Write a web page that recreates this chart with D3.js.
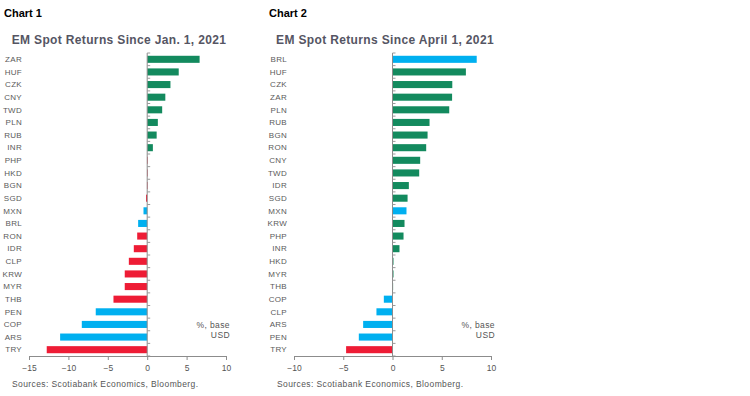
<!DOCTYPE html>
<html>
<head>
<meta charset="utf-8">
<script src="https://cdn.jsdelivr.net/npm/d3@7"></script>
<style>
  body { margin: 0; background: #fff; }
  svg { display: block; }
  text { font-family: "Liberation Sans", Arial, sans-serif; }
  .chart-no { font-family: "Liberation Sans Narrow", "Arial Narrow", "Liberation Sans", sans-serif; font-weight: bold; font-size: 11px; fill: #000; }
  .title { font-weight: bold; font-size: 12px; fill: #555563; letter-spacing: 0.35px; }
  .cat { font-size: 8px; fill: #5a5a5a; letter-spacing: 0.3px; }
  .axis text { font-size: 8.5px; fill: #555; }
  .axis path, .axis line { stroke: #8c8c8c; }
  .note { font-size: 8.5px; fill: #555; letter-spacing: 0.4px; }
</style>
</head>
<body>
<svg id="chart" width="750" height="396"></svg>
<script>
// chart 1: since Jan 1
const codes1 = ['ZAR','HUF','CZK','CNY','TWD','PLN','RUB','INR','PHP','HKD','BGN','SGD',
  'MXN','BRL','RON','IDR','CLP','KRW','MYR','THB','PEN','COP','ARS','TRY'];
const values1 = [6.65, 4.0, 2.95, 2.3, 1.9, 1.35, 1.2, 0.72, 0.08, 0.02, -0.03, -0.15,
  -0.47, -1.15, -1.27, -1.7, -2.33, -2.85, -2.85, -4.28, -6.53, -8.3, -11.05, -12.75];
const groups1 = ['up','up','up','up','up','up','up','up','down','down','down','down',
  'latam','latam','down','down','down','down','down','down','latam','latam','latam','down'];

// chart 2: since April 1
const codes2 = ['BRL','HUF','CZK','ZAR','PLN','RUB','BGN','RON','CNY','TWD','IDR','SGD',
  'MXN','KRW','PHP','INR','HKD','MYR','THB','COP','CLP','ARS','PEN','TRY'];
const values2 = [8.55, 7.45, 6.07, 6.05, 5.76, 3.76, 3.56, 3.42, 2.81, 2.71, 1.66, 1.53,
  1.42, 1.22, 1.12, 0.71, 0.1, 0.1, 0.03, -0.88, -1.63, -2.98, -3.42, -4.71];
const groups2 = ['latam','up','up','up','up','up','up','up','up','up','up','up',
  'latam','up','up','up','up','up','up','latam','latam','latam','latam','down'];

const ticks1 = [-15, -10, -5, 0, 5, 10];
const ticks2 = [-10, -5, 0, 5, 10];

const color = d3.scaleOrdinal()
  .domain(['up', 'down', 'latam'])
  .range(['#138a5e', '#ee1c35', '#00b0f0']);

const svg = d3.select('#chart');

function drawChart(opts) {
  const g = svg.append('g');

  g.append('text').attr('class', 'chart-no')
    .attr('x', opts.left - 25).attr('y', 17)
    .text(opts.label);

  g.append('text').attr('class', 'title')
    .attr('x', opts.titleX).attr('y', 44)
    .attr('text-anchor', 'middle')
    .text(opts.title);

  const x = d3.scaleLinear().domain(d3.extent(opts.ticks)).range([opts.left, opts.right]);
  const y = d3.scaleBand().domain(opts.codes).range([53, 356]).paddingInner(0.44).paddingOuter(0.22);

  const data = opts.codes.map((c, i) => ({ code: c, value: opts.values[i], group: opts.groups[i] }));

  g.selectAll('rect.bar').data(data).join('rect')
    .attr('class', 'bar')
    .attr('x', d => x(Math.min(0, d.value)))
    .attr('width', d => Math.max(0.6, Math.abs(x(d.value) - x(0))))
    .attr('y', d => y(d.code))
    .attr('height', y.bandwidth())
    .attr('fill', d => color(d.group));

  // category labels
  g.selectAll('text.cat').data(data).join('text')
    .attr('class', 'cat')
    .attr('x', opts.left - 7)
    .attr('y', d => y(d.code) + y.bandwidth() / 2)
    .attr('dy', '0.35em')
    .attr('text-anchor', 'end')
    .text(d => d.code);

  // zero line with band-boundary ticks
  const step = y.step();
  const bounds = d3.range(opts.codes.length + 1).map(i => 53 + i * step);
  g.append('line')
    .attr('x1', x(0)).attr('x2', x(0))
    .attr('y1', 53).attr('y2', 356)
    .attr('stroke', '#8c8c8c');
  g.selectAll('line.ytick').data(bounds).join('line')
    .attr('class', 'ytick')
    .attr('x1', x(0)).attr('x2', x(0) + 3)
    .attr('y1', d => d).attr('y2', d => d)
    .attr('stroke', '#9a9a9a');

  g.append('g').attr('class', 'axis')
    .attr('transform', 'translate(0,356)')
    .call(d3.axisBottom(x).tickValues(opts.ticks).tickSize(4).tickSizeOuter(4).tickPadding(5))
    .call(a => a.selectAll('text').attr('dy', '0.71em'));

  g.append('text').attr('class', 'note')
    .attr('x', opts.right + 4).attr('y', 328)
    .attr('text-anchor', 'end')
    .text('%, base');
  g.append('text').attr('class', 'note')
    .attr('x', opts.right + 4).attr('y', 338)
    .attr('text-anchor', 'end')
    .text('USD');

  g.append('text').attr('class', 'note')
    .attr('x', opts.left - 17).attr('y', 387)
    .text('Sources: Scotiabank Economics, Bloomberg.');
}

drawChart({
  label: 'Chart 1', title: 'EM Spot Returns Since Jan. 1, 2021', titleX: 119,
  codes: codes1, values: values1, groups: groups1, ticks: ticks1,
  left: 29, right: 226
});

drawChart({
  label: 'Chart 2', title: 'EM Spot Returns Since April 1, 2021', titleX: 385,
  codes: codes2, values: values2, groups: groups2, ticks: ticks2,
  left: 294, right: 491
});
</script>
</body>
</html>
